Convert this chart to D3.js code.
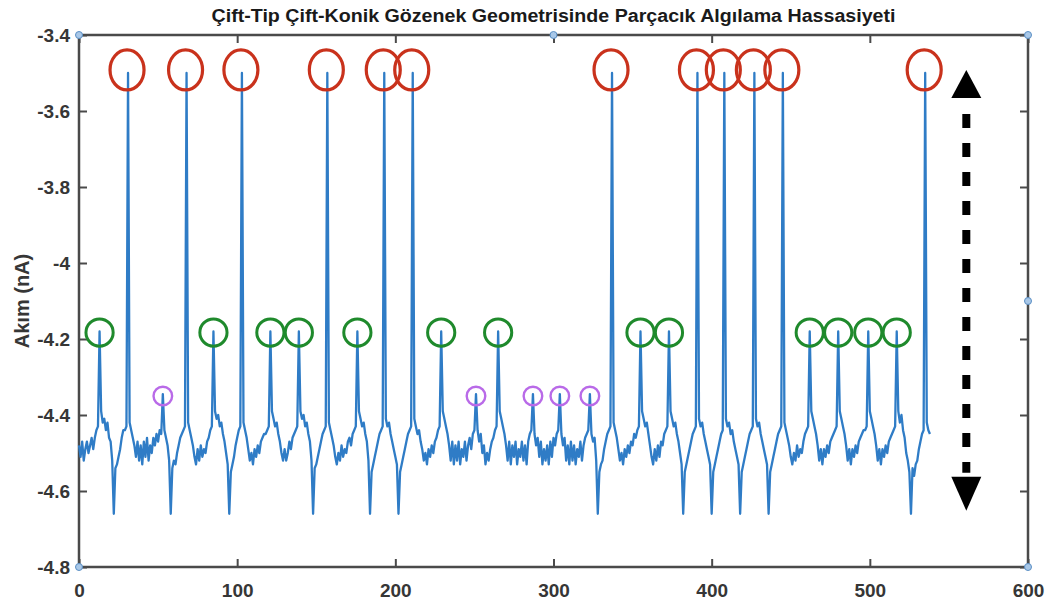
<!DOCTYPE html>
<html>
<head>
<meta charset="utf-8">
<script src="https://d3js.org/d3.v7.min.js"></script>
<style>
  body { margin: 0; background: white; }
  text { font-family: "Liberation Sans", Arial, sans-serif; font-weight: bold; }
</style>
</head>
<body>
<div id="chart"></div>
<script>
// current trace, one sample per x step (0..538)
var signal = [
  -4.48,-4.51,-4.47,-4.52,-4.49,-4.47,-4.50,-4.48,-4.46,-4.49,
  -4.46,-4.44,-4.43,-4.18,-4.39,-4.42,-4.41,-4.44,-4.42,-4.46,
  -4.47,-4.52,-4.66,-4.54,-4.53,-4.51,-4.49,-4.46,-4.44,-4.44,
  -4.43,-3.50,-4.42,-4.44,-4.46,-4.48,-4.51,-4.47,-4.52,-4.48,
  -4.53,-4.47,-4.51,-4.46,-4.52,-4.48,-4.50,-4.46,-4.48,-4.45,
  -4.47,-4.44,-4.45,-4.345,-4.44,-4.46,-4.48,-4.52,-4.66,-4.54,
  -4.52,-4.53,-4.50,-4.48,-4.46,-4.45,-4.44,-4.43,-3.50,-4.42,
  -4.44,-4.46,-4.48,-4.51,-4.53,-4.49,-4.52,-4.48,-4.51,-4.49,
  -4.50,-4.47,-4.46,-4.44,-4.43,-4.18,-4.39,-4.41,-4.40,-4.43,
  -4.42,-4.45,-4.47,-4.50,-4.53,-4.66,-4.55,-4.53,-4.51,-4.48,
  -4.46,-4.44,-4.43,-3.50,-4.42,-4.44,-4.46,-4.49,-4.52,-4.50,
  -4.53,-4.49,-4.51,-4.48,-4.50,-4.47,-4.46,-4.45,-4.45,-4.44,
  -4.43,-4.18,-4.39,-4.41,-4.43,-4.42,-4.45,-4.47,-4.50,-4.52,
  -4.49,-4.52,-4.50,-4.47,-4.49,-4.46,-4.45,-4.44,-4.43,-4.18,
  -4.39,-4.41,-4.40,-4.43,-4.42,-4.45,-4.47,-4.52,-4.66,-4.54,
  -4.53,-4.51,-4.49,-4.47,-4.45,-4.44,-4.43,-3.50,-4.42,-4.44,
  -4.46,-4.48,-4.51,-4.53,-4.50,-4.52,-4.48,-4.51,-4.49,-4.50,
  -4.47,-4.46,-4.48,-4.45,-4.44,-4.43,-4.18,-4.39,-4.41,-4.43,
  -4.42,-4.45,-4.47,-4.52,-4.66,-4.55,-4.53,-4.51,-4.49,-4.47,
  -4.45,-4.44,-4.43,-3.50,-4.41,-4.43,-4.42,-4.45,-4.47,-4.49,
  -4.51,-4.53,-4.66,-4.55,-4.53,-4.51,-4.49,-4.47,-4.45,-4.44,
  -4.43,-3.50,-4.41,-4.43,-4.45,-4.44,-4.47,-4.49,-4.52,-4.50,
  -4.53,-4.49,-4.51,-4.48,-4.50,-4.47,-4.46,-4.44,-4.43,-4.18,
  -4.39,-4.41,-4.43,-4.45,-4.48,-4.52,-4.47,-4.53,-4.48,-4.52,
  -4.47,-4.53,-4.49,-4.51,-4.47,-4.52,-4.48,-4.46,-4.49,-4.45,
  -4.44,-4.345,-4.44,-4.47,-4.45,-4.50,-4.48,-4.53,-4.50,-4.52,
  -4.49,-4.47,-4.46,-4.44,-4.43,-4.18,-4.39,-4.41,-4.43,-4.45,
  -4.48,-4.52,-4.47,-4.53,-4.48,-4.51,-4.47,-4.53,-4.49,-4.51,
  -4.47,-4.52,-4.48,-4.53,-4.47,-4.45,-4.44,-4.345,-4.45,-4.48,
  -4.46,-4.51,-4.47,-4.53,-4.49,-4.52,-4.48,-4.53,-4.47,-4.51,
  -4.46,-4.48,-4.45,-4.44,-4.345,-4.45,-4.48,-4.46,-4.52,-4.48,
  -4.53,-4.47,-4.52,-4.48,-4.53,-4.49,-4.51,-4.47,-4.52,-4.48,
  -4.46,-4.45,-4.44,-4.345,-4.45,-4.47,-4.46,-4.52,-4.66,-4.55,
  -4.53,-4.52,-4.49,-4.47,-4.45,-4.44,-4.43,-3.50,-4.42,-4.44,
  -4.46,-4.49,-4.52,-4.50,-4.53,-4.49,-4.51,-4.48,-4.50,-4.47,
  -4.48,-4.45,-4.46,-4.44,-4.43,-4.18,-4.39,-4.41,-4.43,-4.42,
  -4.45,-4.48,-4.51,-4.53,-4.49,-4.52,-4.48,-4.51,-4.47,-4.48,
  -4.45,-4.44,-4.43,-4.18,-4.39,-4.41,-4.43,-4.42,-4.45,-4.47,
  -4.50,-4.53,-4.66,-4.55,-4.53,-4.51,-4.49,-4.47,-4.45,-4.44,
  -4.43,-3.50,-4.41,-4.43,-4.42,-4.45,-4.47,-4.49,-4.51,-4.53,
  -4.66,-4.55,-4.53,-4.51,-4.49,-4.47,-4.45,-4.44,-3.50,-4.41,
  -4.43,-4.42,-4.45,-4.44,-4.47,-4.49,-4.51,-4.53,-4.66,-4.55,
  -4.53,-4.51,-4.49,-4.47,-4.45,-4.44,-4.43,-3.50,-4.41,-4.43,
  -4.42,-4.45,-4.47,-4.49,-4.51,-4.53,-4.66,-4.55,-4.53,-4.51,
  -4.49,-4.47,-4.45,-4.44,-4.43,-3.50,-4.42,-4.44,-4.46,-4.48,
  -4.51,-4.53,-4.50,-4.52,-4.48,-4.51,-4.49,-4.50,-4.47,-4.45,
  -4.44,-4.43,-4.18,-4.39,-4.41,-4.43,-4.45,-4.48,-4.52,-4.49,
  -4.53,-4.49,-4.51,-4.48,-4.50,-4.47,-4.46,-4.45,-4.44,-4.43,
  -4.18,-4.39,-4.41,-4.43,-4.45,-4.48,-4.52,-4.49,-4.53,-4.49,
  -4.51,-4.48,-4.50,-4.47,-4.46,-4.45,-4.44,-4.44,-4.43,-4.18,
  -4.39,-4.41,-4.43,-4.45,-4.48,-4.52,-4.49,-4.53,-4.49,-4.51,
  -4.48,-4.50,-4.47,-4.46,-4.45,-4.44,-4.43,-4.18,-4.39,-4.42,
  -4.40,-4.44,-4.46,-4.50,-4.52,-4.55,-4.66,-4.54,-4.56,-4.53,
  -4.52,-4.49,-4.47,-4.45,-4.44,-3.50,-4.42,-4.44,-4.45
];

// circled peaks (sample positions) and the level of their circles
var redPeaks = [31, 68, 103, 157, 193, 211, 337, 391, 408, 427, 445, 535];
var greenPeaks = [13, 85, 121, 139, 176, 229, 265, 355, 373, 462, 480, 499, 517];
var purplePeaks = [53, 251, 287, 304, 323];
var redLevel = -3.492;
var greenLevel = -4.183;
var purpleLevel = -4.35;

var xTicks = [0, 100, 200, 300, 400, 500, 600];
var yTicks = [-4.8, -4.6, -4.4, -4.2, -4, -3.8, -3.6, -3.4];

// double arrow showing the signal range
var arrowX = 561;
var arrowTop = -3.492;
var arrowBottom = -4.652;

var width = 1048, height = 606;
var margin = {top: 35, right: 20, bottom: 39, left: 79};

var svg = d3.select("#chart")
            .append("svg")
            .attr("width", width)
            .attr("height", height)
            .style("background-color", "white");

var x = d3.scaleLinear().domain([0, 600]).range([margin.left, width - margin.right]);
var y = d3.scaleLinear().domain([-4.8, -3.4]).range([height - margin.bottom, margin.top]);

//Title
svg.append("text")
   .attr("x", x(300))
   .attr("y", 22)
   .attr("text-anchor", "middle")
   .attr("font-size", 18)
   .attr("fill", "#1a1a1a")
   .attr("textLength", 684)
   .attr("lengthAdjust", "spacingAndGlyphs")
   .text("Çift-Tip Çift-Konik Gözenek Geometrisinde Parçacık Algılama Hassasiyeti");

//Axes (ticks point inward, box drawn separately)
var tickColor = "#4a4a4a";

var xAxis = svg.append("g")
   .attr("transform", "translate(0," + y(-4.8) + ")")
   .call(d3.axisBottom(x).tickValues(xTicks).tickSizeInner(-8).tickSizeOuter(0).tickPadding(17).tickFormat(d => d));

var xAxisTop = svg.append("g")
   .attr("transform", "translate(0," + y(-3.4) + ")")
   .call(d3.axisTop(x).tickValues(xTicks).tickSizeInner(-8).tickSizeOuter(0).tickFormat(""));

var yAxis = svg.append("g")
   .attr("transform", "translate(" + x(0) + ",0)")
   .call(d3.axisLeft(y).tickValues(yTicks).tickSizeInner(-8).tickSizeOuter(0).tickPadding(9).tickFormat(d => String(d)));

var yAxisRight = svg.append("g")
   .attr("transform", "translate(" + x(600) + ",0)")
   .call(d3.axisRight(y).tickValues(yTicks).tickSizeInner(-8).tickSizeOuter(0).tickFormat(""));

[xAxis, xAxisTop, yAxis, yAxisRight].forEach(function(g) {
  g.select(".domain").remove();
  g.selectAll(".tick line").attr("stroke", tickColor).attr("stroke-width", 2);
  g.selectAll(".tick text")
   .attr("fill", "#363636")
   .attr("font-size", 19)
   .attr("font-weight", "bold")
   .attr("font-family", "'Liberation Sans', Arial, sans-serif");
});

svg.append("rect")
   .attr("x", x(0))
   .attr("y", y(-3.4))
   .attr("width", x(600) - x(0))
   .attr("height", y(-4.8) - y(-3.4))
   .attr("fill", "none")
   .attr("stroke", tickColor)
   .attr("stroke-width", 2.5);

//Y label
svg.append("text")
   .attr("transform", "translate(22," + y(-4.1) + ") rotate(-90)")
   .attr("text-anchor", "middle")
   .attr("dominant-baseline", "central")
   .attr("font-size", 20)
   .attr("fill", "#363636")
   .text("Akım (nA)");

//Signal
var line = d3.line()
   .x(function(d, i) { return x(i); })
   .y(function(d) { return y(d); });

svg.append("path")
   .datum(signal)
   .attr("d", line)
   .attr("fill", "none")
   .attr("stroke", "#2f7cc6")
   .attr("stroke-width", 2.3)
   .attr("stroke-linejoin", "round");

//Peak circles
svg.selectAll(".red-mark")
   .data(redPeaks)
   .enter()
   .append("ellipse")
   .attr("cx", d => x(d) - 1)
   .attr("cy", y(redLevel))
   .attr("rx", 17)
   .attr("ry", 20)
   .attr("fill", "none")
   .attr("stroke", "#c9321c")
   .attr("stroke-width", 3.2);

svg.selectAll(".green-mark")
   .data(greenPeaks)
   .enter()
   .append("circle")
   .attr("cx", d => x(d))
   .attr("cy", y(greenLevel))
   .attr("r", 13.6)
   .attr("fill", "none")
   .attr("stroke", "#1f8a2c")
   .attr("stroke-width", 3);

svg.selectAll(".purple-mark")
   .data(purplePeaks)
   .enter()
   .append("circle")
   .attr("cx", d => x(d))
   .attr("cy", y(purpleLevel))
   .attr("r", 9.3)
   .attr("fill", "none")
   .attr("stroke", "#b96ae8")
   .attr("stroke-width", 2.4);

//Dashed double arrow
var ax = x(arrowX);
var headH = 28, headW = 15;
var yT = y(arrowTop), yB = y(arrowBottom);

svg.append("line")
   .attr("x1", ax).attr("x2", ax)
   .attr("y1", yT + headH + 16)
   .attr("y2", yB - headH - 10)
   .attr("stroke", "black")
   .attr("stroke-width", 8)
   .attr("stroke-dasharray", "14,15");

svg.append("path")
   .attr("d", "M" + ax + "," + yT + " L" + (ax + headW) + "," + (yT + headH) + " L" + (ax - headW) + "," + (yT + headH) + " Z")
   .attr("fill", "black");

svg.append("path")
   .attr("d", "M" + ax + "," + yB + " L" + (ax + headW) + "," + (yB - headH - 6) + " L" + (ax - headW) + "," + (yB - headH - 6) + " Z")
   .attr("fill", "black");

//Selection handles on the axes box
var handles = [[0, -3.4], [300, -3.4], [600, -3.4], [600, -4.1], [600, -4.8], [0, -4.8]];
svg.selectAll(".handle")
   .data(handles)
   .enter()
   .append("circle")
   .attr("cx", d => x(d[0]))
   .attr("cy", d => y(d[1]))
   .attr("r", 3.5)
   .attr("fill", "#a9c8e8")
   .attr("stroke", "#5b8fc4")
   .attr("stroke-width", 1);
</script>
</body>
</html>
